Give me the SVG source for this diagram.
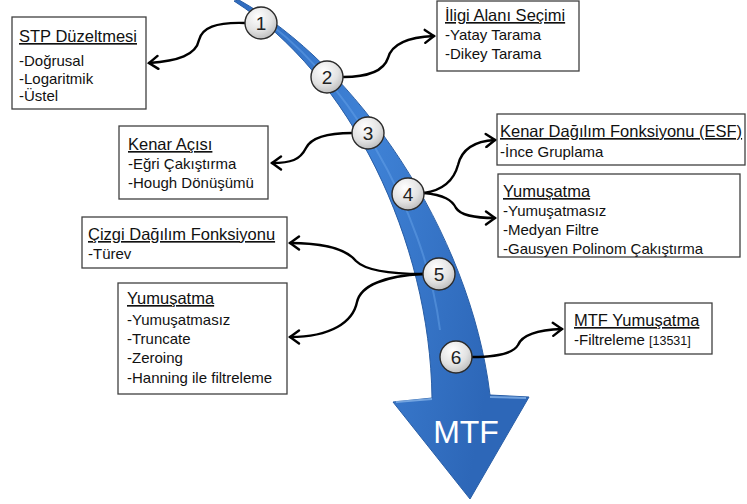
<svg xmlns="http://www.w3.org/2000/svg" width="747" height="504" viewBox="0 0 747 504">
  <style>
    .box { fill: #ffffff; stroke: #404040; stroke-width: 1.3; }
    .title { font-family: "Liberation Sans", Arial, sans-serif; font-size: 16.5px; fill: #111; text-decoration: underline; }
    .item { font-family: "Liberation Sans", Arial, sans-serif; font-size: 15px; fill: #111; }
    .ref { font-size: 12.5px; }
    .conn { fill: none; stroke: #000; stroke-width: 2.4; stroke-linecap: round; marker-end: url(#head); }
    .step circle { fill: url(#knob); stroke: #2b2b2b; stroke-width: 1.4; }
    .step text { font-family: "Liberation Sans", Arial, sans-serif; font-size: 19px; fill: #222; text-anchor: middle; }
  </style>
  <defs>
    <marker id="head" viewBox="-11 -8 13 16" markerWidth="13" markerHeight="16" refX="0" refY="0" orient="auto" markerUnits="userSpaceOnUse">
      <path d="M-9,-6.5 L0,0 L-9,6.5" fill="none" stroke="#000" stroke-width="2.4" stroke-linecap="round" stroke-linejoin="miter"/>
    </marker>
    <radialGradient id="knob" cx="0.4" cy="0.3" r="0.75">
      <stop offset="0" stop-color="#ffffff"/>
      <stop offset="0.6" stop-color="#e2e2e2"/>
      <stop offset="1" stop-color="#b9b9b9"/>
    </radialGradient>
    <linearGradient id="flow" x1="0" y1="0" x2="1" y2="0.3">
      <stop offset="0" stop-color="#2f6cc0"/>
      <stop offset="0.5" stop-color="#3f82d6"/>
      <stop offset="1" stop-color="#2d67b8"/>
    </linearGradient>
  </defs>

  <rect width="747" height="504" fill="#ffffff"/>

  <!-- curved process arrow ending in the MTF head -->
  <g id="flow-arrow">
    <path d="M234,1 C350,75 430,240 432,398 L393,402 L470,499 L529,397 L490,395 C470,230 355,65 239,0 Z"
          fill="url(#flow)" stroke="#295ea6" stroke-width="1"/>
    <path d="M250,10 C345,70 425,210 440,330" fill="none" stroke="#6aa6ea" stroke-width="2" opacity="0.45"/>
    <path d="M396,402 L432,399" stroke="#8fbcef" stroke-width="2" opacity="0.7"/>
    <path d="M490,397 L526,398" stroke="#8fbcef" stroke-width="2" opacity="0.7"/>
    <text x="466" y="443" font-family="'Liberation Sans', Arial, sans-serif" font-size="32" fill="#ffffff" text-anchor="middle">MTF</text>
  </g>

  <!-- connectors -->
  <g id="connectors">
    <path class="conn" d="M245,23 C215,22 202,28 199,40 C196,55 178,61 149,63"/>
    <path class="conn" d="M343,77 C370,77 384,70 388,58 C392,43 410,37 434,36"/>
    <path class="conn" d="M352,133 C326,133 311,138 306,148 C300,160 291,163 272,163"/>
    <path class="conn" d="M424,193 C444,190 454,180 458,165 C462,148 476,141 495,140"/>
    <path class="conn" d="M424,193 C444,195 452,200 456,208 C461,216 476,218 495,218"/>
    <path class="conn" d="M423,274 C390,274 366,271 356,261 C346,249 322,243 290,243"/>
    <path class="conn" d="M423,274 C386,276 361,285 357,302 C353,322 331,337 290,337"/>
    <path class="conn" d="M472,357 C500,357 514,352 518,345 C522,335 536,330 562,329"/>
  </g>

  <!-- step markers -->
  <g id="step1" class="step"><circle cx="261" cy="23" r="16"/><text x="261" y="30">1</text></g>
  <g id="step2" class="step"><circle cx="327" cy="77" r="16"/><text x="327" y="84">2</text></g>
  <g id="step3" class="step"><circle cx="368" cy="133" r="16"/><text x="368" y="140">3</text></g>
  <g id="step4" class="step"><circle cx="408" cy="194" r="16"/><text x="408" y="201">4</text></g>
  <g id="step5" class="step"><circle cx="439" cy="274" r="16"/><text x="439" y="281">5</text></g>
  <g id="step6" class="step"><circle cx="456" cy="357" r="16"/><text x="456" y="364">6</text></g>

  <!-- method boxes -->
  <g id="stp">
    <rect class="box" x="12" y="17" width="134" height="92"/>
    <text class="title" x="19" y="42">STP Düzeltmesi</text>
    <text class="item" x="19" y="66">-Doğrusal</text>
    <text class="item" x="19" y="84">-Logaritmik</text>
    <text class="item" x="19" y="101">-Üstel</text>
  </g>

  <g id="roi">
    <rect class="box" x="437" y="1" width="142" height="70"/>
    <text class="title" x="445" y="21">İligi Alanı Seçimi</text>
    <text class="item" x="445" y="40">-Yatay Tarama</text>
    <text class="item" x="445" y="59">-Dikey Tarama</text>
  </g>

  <g id="edge-angle">
    <rect class="box" x="119" y="126" width="149" height="73"/>
    <text class="title" x="128" y="150">Kenar  Açısı</text>
    <text class="item" x="128" y="169">-Eğri Çakıştırma</text>
    <text class="item" x="128" y="188">-Hough Dönüşümü</text>
  </g>

  <g id="esf">
    <rect class="box" x="497" y="114" width="248" height="51"/>
    <text class="title" x="500" y="137">Kenar  Dağılım Fonksiyonu (ESF)</text>
    <text class="item" x="500" y="157">-İnce Gruplama</text>
  </g>

  <g id="esf-smoothing">
    <rect class="box" x="498" y="174" width="242" height="83"/>
    <text class="title" x="503" y="197">Yumuşatma</text>
    <text class="item" x="503" y="216">-Yumuşatmasız</text>
    <text class="item" x="503" y="235">-Medyan Filtre</text>
    <text class="item" x="503" y="254">-Gausyen  Polinom  Çakıştırma</text>
  </g>

  <g id="lsf">
    <rect class="box" x="82" y="217" width="205" height="51"/>
    <text class="title" x="88" y="240">Çizgi Dağılım Fonksiyonu</text>
    <text class="item" x="88" y="259">-Türev</text>
  </g>

  <g id="lsf-smoothing">
    <rect class="box" x="118" y="283" width="169" height="111"/>
    <text class="title" x="127" y="304">Yumuşatma</text>
    <text class="item" x="127" y="325">-Yumuşatmasız</text>
    <text class="item" x="127" y="344">-Truncate</text>
    <text class="item" x="127" y="363">-Zeroing</text>
    <text class="item" x="127" y="383">-Hanning ile filtreleme</text>
  </g>

  <g id="mtf-smoothing">
    <rect class="box" x="565" y="303" width="147" height="51"/>
    <text class="title" x="574" y="326">MTF Yumuşatma</text>
    <text class="item" x="574" y="345">-Filtreleme <tspan class="ref">[13531]</tspan></text>
  </g>
</svg>
